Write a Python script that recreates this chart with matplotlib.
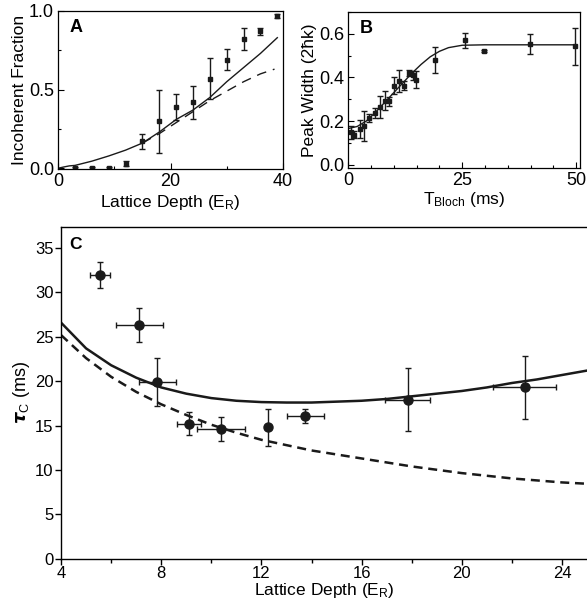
import matplotlib
matplotlib.use("Agg")
import matplotlib.pyplot as plt
from matplotlib.ticker import MultipleLocator

plt.rcParams["font.family"] = ["Liberation Sans", "DejaVu Sans"]
plt.rcParams["mathtext.fontset"] = "custom"
plt.rcParams["mathtext.rm"] = "Liberation Sans"
plt.rcParams["mathtext.it"] = "Liberation Sans:italic"
plt.rcParams["mathtext.bf"] = "Liberation Sans:bold"

# panel A: incoherent fraction vs lattice depth
a_x = [3, 6, 9, 12, 15, 18, 21, 24, 27, 30, 33, 36, 39]
a_y = [0.0, 0.0, 0.0, 0.03, 0.17, 0.30, 0.39, 0.42, 0.57, 0.69, 0.82, 0.87, 0.97]
a_err = [0.005, 0.005, 0.005, 0.015, 0.045, 0.20, 0.085, 0.105, 0.13, 0.065, 0.07, 0.02, 0.012]
a_fit_x = [0, 1, 2, 3, 6, 9, 12, 15, 18, 21, 24, 27, 30, 33, 36, 39]
a_fit_y = [0.0, 0.008, 0.015, 0.018, 0.045, 0.078, 0.115, 0.16, 0.23, 0.31, 0.37, 0.45, 0.55, 0.64, 0.73, 0.83]
a_dash_x = [15, 18, 21, 24, 27, 30, 33, 36, 38.5]
a_dash_y = [0.16, 0.22, 0.29, 0.36, 0.43, 0.49, 0.55, 0.60, 0.63]

# panel B: peak width vs Bloch time
b_x = [0.7, 1.2, 2.6, 3.4, 4.6, 5.8, 7.0, 8.0, 8.9, 10.0, 11.1, 12.2, 13.3, 14.3, 14.8,
       19.1, 25.6, 29.8, 39.9, 49.7]
b_y = [0.148, 0.138, 0.164, 0.176, 0.214, 0.237, 0.265, 0.294, 0.29, 0.363, 0.383, 0.363,
       0.42, 0.41, 0.39, 0.479, 0.571, 0.52, 0.553, 0.544]
b_err = [0.03, 0.015, 0.04, 0.07, 0.02, 0.025, 0.05, 0.045, 0.02, 0.04, 0.05, 0.02,
         0.015, 0.02, 0.04, 0.06, 0.035, 0.004, 0.045, 0.085]
b_fit_x = [0, 2, 4, 6, 8, 10, 12, 14, 16, 18, 20, 22, 25, 30, 40, 50]
b_fit_y = [0.165, 0.175, 0.20, 0.24, 0.285, 0.33, 0.375, 0.42, 0.46, 0.495, 0.52, 0.537,
           0.548, 0.55, 0.55, 0.55]

# panel C: coherence time vs lattice depth
c_x = [5.55, 7.13, 7.85, 9.1, 10.38, 12.26, 13.76, 17.84, 22.52]
c_y = [32.0, 26.3, 19.9, 15.2, 14.6, 14.8, 16.1, 17.9, 19.3]
c_yerr = [1.45, 1.9, 2.7, 1.3, 1.35, 2.1, 0.8, 3.55, 3.55]
c_xerr = [0.4, 0.94, 0.75, 0.48, 0.97, 0.0, 0.75, 0.9, 1.26]
c_fit_x = [4, 5, 6, 7, 8, 9, 10, 11, 12, 13, 14, 15, 16, 17, 18, 19, 20, 21, 22, 23, 24, 25]
c_fit_y = [26.6, 23.7, 21.8, 20.4, 19.3, 18.6, 18.1, 17.8, 17.65, 17.6, 17.6, 17.7, 17.8,
           18.0, 18.3, 18.6, 18.9, 19.3, 19.8, 20.2, 20.7, 21.2]
c_dash_x = [4, 5, 6, 7, 8, 9, 10, 11, 12, 13, 14, 16, 18, 20, 22, 24, 25]
c_dash_y = [25.2, 22.6, 20.5, 18.8, 17.4, 16.2, 15.1, 14.2, 13.4, 12.8, 12.2, 11.3, 10.4,
            9.65, 9.05, 8.6, 8.45]

fig = plt.figure(figsize=(5.87, 6.08), dpi=100)
ax_a = fig.add_axes([0.099, 0.722, 0.383, 0.260])
ax_b = fig.add_axes([0.593, 0.724, 0.395, 0.256])
ax_c = fig.add_axes([0.104, 0.081, 0.896, 0.546])

k = "#1a1a1a"

# A
ax_a.plot(a_fit_x, a_fit_y, color=k, lw=1.0)
ax_a.plot(a_dash_x, a_dash_y, color=k, lw=1.0, dashes=(7, 5))
ax_a.errorbar(a_x, a_y, yerr=a_err, fmt="s", ms=3.5, color=k, ecolor=k, elinewidth=1.0,
              capsize=2, capthick=1.0)
ax_a.set_xlim(0, 40)
ax_a.set_ylim(-0.005, 1.0)
ax_a.xaxis.set_major_locator(MultipleLocator(20))
ax_a.xaxis.set_minor_locator(MultipleLocator(10))
ax_a.yaxis.set_major_locator(MultipleLocator(0.5))
ax_a.yaxis.set_minor_locator(MultipleLocator(0.25))
ax_a.yaxis.set_major_formatter(plt.FuncFormatter(lambda v, p: f"{v:.1f}"))
ax_a.set_xlabel(r"Lattice Depth (E$_{\mathrm{R}}$)", fontsize=12.5, labelpad=2)
ax_a.set_ylabel("Incoherent Fraction", fontsize=12.5, labelpad=1)
ax_a.text(0.05, 0.95, "A", transform=ax_a.transAxes, fontsize=13, fontweight="bold",
          va="top", ha="left")

# B
ax_b.plot(b_fit_x, b_fit_y, color=k, lw=1.0)
ax_b.errorbar(b_x, b_y, yerr=b_err, fmt="s", ms=3.5, color=k, ecolor=k, elinewidth=1.0,
              capsize=2, capthick=1.0)
ax_b.set_xlim(0, 50.8)
ax_b.set_ylim(-0.015, 0.70)
ax_b.xaxis.set_major_locator(MultipleLocator(25))
ax_b.xaxis.set_minor_locator(MultipleLocator(5))
ax_b.yaxis.set_major_locator(MultipleLocator(0.2))
ax_b.yaxis.set_minor_locator(MultipleLocator(0.1))
ax_b.yaxis.set_major_formatter(plt.FuncFormatter(lambda v, p: f"{v:.1f}"))
ax_b.set_xlabel(r"T$_{\mathrm{Bloch}}$ (ms)", fontsize=12.5, labelpad=1)
ax_b.set_ylabel("Peak Width (2\u0127k)", fontsize=12.5, labelpad=1)
ax_b.text(0.05, 0.95, "B", transform=ax_b.transAxes, fontsize=13, fontweight="bold",
          va="top", ha="left")

for ax in (ax_a, ax_b):
    ax.tick_params(which="both", direction="in", top=False, right=False, labelsize=13,
                   width=0.8, pad=3)
    ax.tick_params(which="major", length=4)
    ax.tick_params(which="minor", length=2.5)
    for s in ax.spines.values():
        s.set_linewidth(0.9)

# C
ax_c.plot(c_fit_x, c_fit_y, color=k, lw=1.8)
ax_c.plot(c_dash_x, c_dash_y, color=k, lw=1.8, dashes=(3.6, 2.3))
ax_c.errorbar(c_x, c_y, yerr=c_yerr, xerr=c_xerr, fmt="o", ms=6.5, color=k, ecolor=k,
              elinewidth=1.0, capsize=2.5, capthick=1.0)
ax_c.set_xlim(4, 25)
ax_c.set_ylim(0, 37.4)
ax_c.xaxis.set_major_locator(MultipleLocator(4))
ax_c.xaxis.set_minor_locator(MultipleLocator(2))
ax_c.yaxis.set_major_locator(MultipleLocator(5))
ax_c.tick_params(which="both", direction="out", labelsize=12, width=1.0, pad=1.5)
ax_c.tick_params(which="major", length=4)
ax_c.tick_params(which="minor", length=3)
ax_c.spines["right"].set_visible(False)
for s in ax_c.spines.values():
    s.set_linewidth(1.0)
ax_c.set_xlabel(r"Lattice Depth (E$_{\mathrm{R}}$)", fontsize=12.5, labelpad=0)
ax_c.set_ylabel(r"$\boldsymbol{\tau}_{\mathrm{C}}$ (ms)", fontsize=13, labelpad=2)
ax_c.text(0.015, 0.97, "C", transform=ax_c.transAxes, fontsize=12.5, fontweight="bold",
          va="top", ha="left")

fig.savefig("out.png", dpi=100)
